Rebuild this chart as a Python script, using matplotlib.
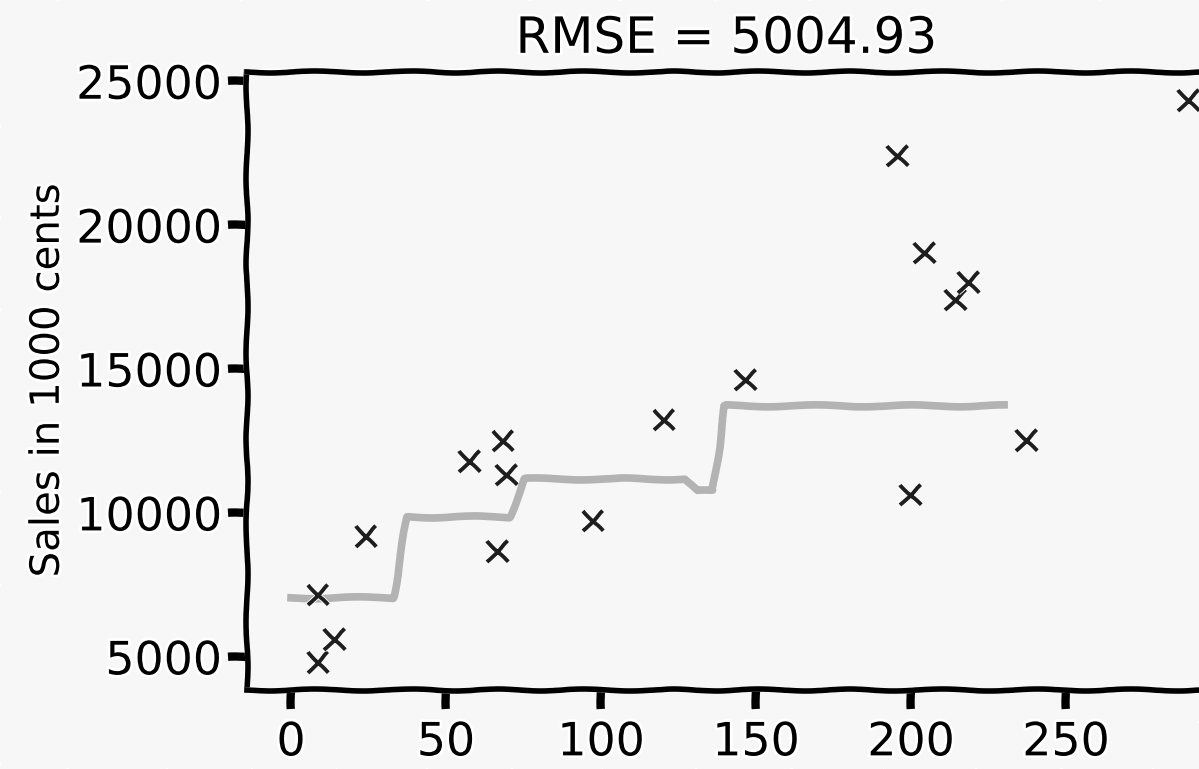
import numpy as np
import matplotlib
matplotlib.use('Agg')
import matplotlib.pyplot as plt

# observed points (x, sales in 1000 cents)
x_obs = [8.7, 8.7, 13.9, 24.2, 57.7, 66.5, 68.4, 69.4, 97.4, 120.3,
         146.5, 195.5, 204.2, 199.7, 214.2, 218.4, 237.1, 289.4]
y_obs = [4790, 7150, 5590, 9170, 11800, 8650, 12500, 11320, 9720, 13230,
         14620, 22400, 19030, 10620, 17400, 18020, 12530, 24340]

# fitted step curve
x_fit = [0, 33, 37.5, 70.5, 75.5, 127, 131, 136, 140, 230]
y_fit = [7050, 7050, 9860, 9860, 11180, 11180, 10760, 10760, 13720, 13720]

title = 'RMSE = 5004.93'
ylabel = 'Sales in 1000 cents'
xticks = [0, 50, 100, 150, 200, 250]
yticks = [5000, 10000, 15000, 20000, 25000]

plt.xkcd()
plt.rcParams['font.family'] = ['DejaVu Sans']

fig = plt.figure(figsize=(11.99, 7.69), dpi=100, facecolor='#f7f7f7')
ax = fig.add_axes([0.206, 0.103, 0.799, 0.803])
ax.set_facecolor('#f7f7f7')

ax.plot(x_fit, y_fit, color='#b3b3b3', linewidth=5.5)
ax.plot(x_obs, y_obs, linestyle='none', marker='x', markersize=15,
        markeredgewidth=2.8, color='#1e1e1e')

ax.set_xlim(-14.2, 294.8)
ax.set_ylim(3854, 25310)
ax.set_xticks(xticks)
ax.set_yticks(yticks)
ax.tick_params(axis='both', labelsize=33, length=14, width=6, direction='out')
ax.tick_params(axis='y', pad=4)
ax.tick_params(axis='x', pad=8)
for s in ax.spines.values():
    s.set_linewidth(4)
ax.spines['right'].set_visible(False)

ax.set_title(title, fontsize=36, pad=14)
ax.set_ylabel(ylabel, fontsize=29, labelpad=6)

fig.savefig('out.png', dpi=100, facecolor=fig.get_facecolor())
